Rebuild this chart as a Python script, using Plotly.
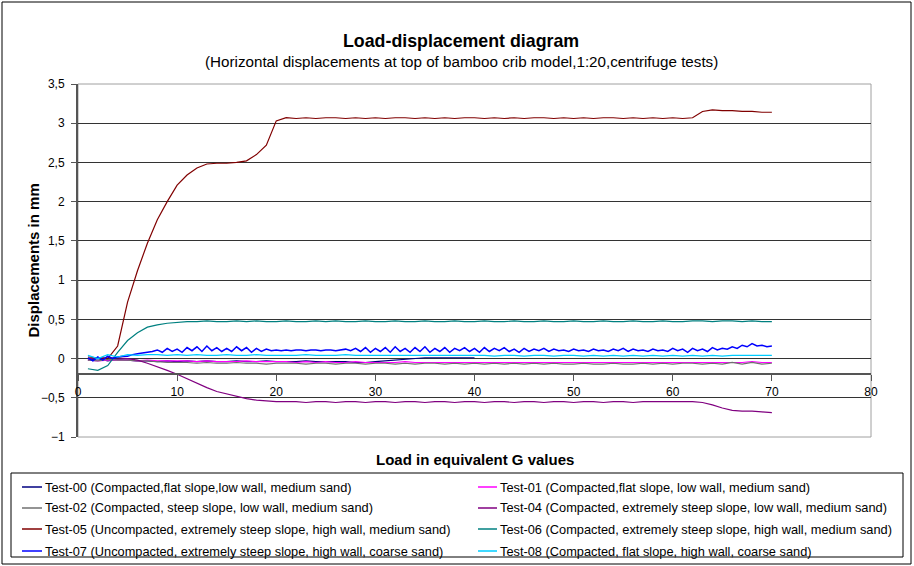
import plotly.graph_objects as go

# Load in equivalent G values
g_load = list(range(1, 71))
g_load_fine = [1 + 0.5 * i for i in range(139)]  # 1.0, 1.5, ... 70.0 (sampling grid of Test-07)

test00 = [-0.02, 0.00, -0.03, -0.01, -0.02, -0.03, -0.03, -0.04, -0.03, -0.04,
          -0.03, -0.04, -0.03, -0.04, -0.04, -0.03, -0.04, -0.04, -0.03, -0.04,
          -0.04, -0.04, -0.03, -0.04, -0.04, -0.04, -0.04, -0.05, -0.05, -0.04,
          -0.03, -0.02, -0.01, 0.00, 0.01, 0.01, 0.01, 0.01, 0.01, 0.01]
test01 = [-0.02, -0.03, -0.02, -0.02, -0.02, -0.03, -0.02, -0.03, -0.03, -0.03,
          -0.03, -0.04, -0.03, -0.04, -0.04, -0.04, -0.03, -0.04, -0.04, -0.04,
          -0.04, -0.05, -0.04, -0.05, -0.04, -0.05, -0.05, -0.04, -0.05, -0.05,
          -0.05, -0.05, -0.04, -0.05, -0.05, -0.05, -0.05, -0.05, -0.05, -0.05,
          -0.05, -0.05, -0.05, -0.05, -0.05, -0.05, -0.05, -0.05, -0.05, -0.05,
          -0.05, -0.05, -0.05, -0.05, -0.05, -0.05, -0.05, -0.05, -0.05, -0.05,
          -0.05, -0.05, -0.05, -0.05, -0.05, -0.05, -0.05, -0.04, -0.05, -0.05]
test02 = [-0.02, -0.03, -0.01, -0.02, -0.02, -0.03, -0.03, -0.04, -0.05, -0.05,
          -0.05, -0.06, -0.05, -0.06, -0.06, -0.05, -0.06, -0.06, -0.07, -0.06,
          -0.06, -0.06, -0.07, -0.06, -0.06, -0.07, -0.06, -0.06, -0.07, -0.06,
          -0.06, -0.07, -0.06, -0.07, -0.06, -0.06, -0.07, -0.06, -0.07, -0.06,
          -0.07, -0.06, -0.07, -0.06, -0.07, -0.06, -0.07, -0.06, -0.07, -0.07,
          -0.06, -0.07, -0.07, -0.06, -0.07, -0.07, -0.06, -0.07, -0.06, -0.07,
          -0.06, -0.06, -0.07, -0.06, -0.07, -0.05, -0.07, -0.05, -0.07, -0.06]
test04 = [0.00, 0.01, 0.01, 0.01, 0.00, -0.02, -0.06, -0.10, -0.15, -0.20,
          -0.26, -0.32, -0.37, -0.42, -0.45, -0.48, -0.51, -0.53, -0.54, -0.55,
          -0.55, -0.55, -0.56, -0.55, -0.55, -0.56, -0.55, -0.55, -0.56, -0.55,
          -0.55, -0.56, -0.55, -0.55, -0.56, -0.55, -0.55, -0.56, -0.55, -0.55,
          -0.56, -0.55, -0.55, -0.56, -0.55, -0.55, -0.56, -0.55, -0.55, -0.56,
          -0.55, -0.55, -0.56, -0.55, -0.55, -0.56, -0.55, -0.55, -0.55, -0.55,
          -0.55, -0.55, -0.56, -0.59, -0.63, -0.66, -0.67, -0.67, -0.68, -0.69]
test05 = [0.02, 0.01, 0.00, 0.16, 0.72, 1.12, 1.47, 1.77, 2.00, 2.21,
          2.34, 2.43, 2.48, 2.49, 2.49, 2.50, 2.52, 2.60, 2.72, 3.03,
          3.07, 3.06, 3.07, 3.06, 3.07, 3.07, 3.06, 3.07, 3.06, 3.07,
          3.06, 3.07, 3.07, 3.06, 3.07, 3.06, 3.07, 3.06, 3.07, 3.07,
          3.06, 3.07, 3.06, 3.07, 3.06, 3.07, 3.07, 3.06, 3.07, 3.06,
          3.07, 3.06, 3.07, 3.07, 3.06, 3.07, 3.06, 3.07, 3.06, 3.07,
          3.06, 3.07, 3.15, 3.17, 3.16, 3.16, 3.15, 3.15, 3.14, 3.14]
test06 = [-0.13, -0.15, -0.09, 0.08, 0.23, 0.33, 0.40, 0.43, 0.45, 0.46,
          0.47, 0.47, 0.48, 0.47, 0.47, 0.48, 0.47, 0.48, 0.47, 0.47,
          0.48, 0.47, 0.47, 0.48, 0.47, 0.48, 0.47, 0.47, 0.48, 0.47,
          0.47, 0.48, 0.47, 0.47, 0.48, 0.47, 0.47, 0.48, 0.47, 0.47,
          0.48, 0.47, 0.47, 0.48, 0.47, 0.47, 0.48, 0.47, 0.47, 0.48,
          0.47, 0.47, 0.48, 0.47, 0.47, 0.48, 0.47, 0.47, 0.48, 0.47,
          0.47, 0.48, 0.48, 0.47, 0.48, 0.48, 0.47, 0.48, 0.47, 0.47]
# Test-07 read at half-G steps (1.0 ... 70.0)
test07 = [0.01, -0.03, 0.02, -0.02, 0.03, 0.00, 0.02, 0.03, 0.03, 0.05,
          0.06, 0.07, 0.08, 0.09, 0.11, 0.08, 0.13, 0.09, 0.12, 0.08,
          0.14, 0.10, 0.15, 0.09, 0.16, 0.10, 0.14, 0.09, 0.13, 0.09,
          0.15, 0.10, 0.14, 0.08, 0.13, 0.09, 0.12, 0.10, 0.11, 0.10,
          0.11, 0.10, 0.11, 0.11, 0.10, 0.11, 0.11, 0.10, 0.11, 0.11,
          0.10, 0.11, 0.12, 0.10, 0.13, 0.09, 0.14, 0.08, 0.13, 0.09,
          0.14, 0.08, 0.15, 0.09, 0.13, 0.08, 0.14, 0.09, 0.15, 0.08,
          0.13, 0.09, 0.14, 0.08, 0.13, 0.10, 0.14, 0.09, 0.13, 0.08,
          0.14, 0.09, 0.13, 0.10, 0.14, 0.09, 0.12, 0.08, 0.13, 0.09,
          0.12, 0.10, 0.13, 0.09, 0.12, 0.10, 0.11, 0.09, 0.12, 0.10,
          0.11, 0.09, 0.12, 0.10, 0.11, 0.09, 0.12, 0.10, 0.13, 0.09,
          0.12, 0.10, 0.11, 0.09, 0.12, 0.10, 0.11, 0.09, 0.13, 0.10,
          0.12, 0.08, 0.13, 0.10, 0.12, 0.09, 0.14, 0.11, 0.13, 0.12,
          0.15, 0.13, 0.17, 0.15, 0.19, 0.16, 0.17, 0.15, 0.16]
test08 = [0.04, 0.00, 0.05, 0.02, 0.05, 0.04, 0.05, 0.05, 0.04, 0.05,
          0.04, 0.05, 0.04, 0.04, 0.05, 0.04, 0.04, 0.05, 0.04, 0.04,
          0.04, 0.04, 0.05, 0.04, 0.04, 0.04, 0.05, 0.04, 0.04, 0.04,
          0.04, 0.04, 0.04, 0.04, 0.04, 0.04, 0.04, 0.04, 0.04, 0.04,
          0.04, 0.03, 0.04, 0.04, 0.03, 0.04, 0.04, 0.03, 0.04, 0.04,
          0.03, 0.04, 0.03, 0.04, 0.03, 0.04, 0.03, 0.04, 0.03, 0.04,
          0.03, 0.04, 0.03, 0.04, 0.03, 0.04, 0.04, 0.04, 0.04, 0.04]

series_names = [
    "Test-00 (Compacted,flat slope,low wall, medium sand)",
    "Test-01 (Compacted,flat slope, low wall, medium sand)",
    "Test-02 (Compacted, steep slope, low wall, medium sand)",
    "Test-04 (Compacted, extremely steep slope, low wall, medium sand)",
    "Test-05 (Uncompacted, extremely steep slope, high wall, medium sand)",
    "Test-06 (Compacted, extremely steep slope, high wall, medium sand)",
    "Test-07 (Uncompacted, extremely steep slope, high wall, coarse sand)",
    "Test-08 (Compacted, flat slope, high wall, coarse sand)",
]
series_values = [test00, test01, test02, test04, test05, test06, test07, test08]
series_x = [g_load, g_load, g_load, g_load, g_load, g_load, g_load_fine, g_load]
series_colors = ["#000080", "#FF00FF", "#707070", "#800080",
                 "#800000", "#008080", "#0000FF", "#00CCFF"]
series_widths = [1.2, 1.2, 1.2, 1.2, 1.2, 1.2, 1.5, 1.2]

y_range = [-1, 3.5]
x_cross = -0.2  # value where the horizontal axis crosses

FONT = "Arial, 'Liberation Sans', Helvetica, sans-serif"

# plot-area geometry in pixels (for converting legend/frame positions to paper coords)
L, R, T, B = 78, 871, 84, 437
PW, PH = R - L, B - T


def px(xp):
    return (xp - L) / PW


def py(yp):
    return (B - yp) / PH


fig = go.Figure()
for name, xs, vals, col, w in zip(series_names, series_x, series_values, series_colors, series_widths):
    fig.add_trace(go.Scatter(
        x=xs[:len(vals)], y=vals, mode="lines", name=name,
        line=dict(color=col, width=w), showlegend=False,
    ))

shapes = [
    dict(type="rect", xref="x domain", yref="y domain", x0=0, x1=1, y0=0, y1=1,
         line=dict(color="#A0A0A0", width=1), layer="below"),
    # outer chart frame
    dict(type="rect", xref="paper", yref="paper",
         x0=px(2), x1=px(911), y0=py(564), y1=py(2),
         line=dict(color="black", width=1)),
    # legend frame
    dict(type="rect", xref="paper", yref="paper",
         x0=px(11), x1=px(903), y0=py(557), y1=py(473),
         line=dict(color="black", width=1)),
]

annotations = [
    dict(text="<b>Load-displacement diagram</b>", xref="paper", yref="paper",
         x=px(461), y=py(41), xanchor="center", yanchor="middle", showarrow=False,
         font=dict(family=FONT, size=17.8, color="black")),
    dict(text="(Horizontal displacements at top of bamboo crib model,1:20,centrifuge tests)",
         xref="paper", yref="paper", x=px(461), y=py(61),
         xanchor="center", yanchor="middle", showarrow=False,
         font=dict(family=FONT, size=15.2, color="black")),
    dict(text="<b>Displacements in mm</b>", xref="paper", yref="paper",
         x=px(33), y=0.5, xanchor="center", yanchor="middle",
         showarrow=False, textangle=-90,
         font=dict(family=FONT, size=15, color="black")),
    dict(text="<b>Load in equivalent G values</b>", xref="paper", yref="paper",
         x=0.5, y=py(459), xanchor="center", yanchor="middle", showarrow=False,
         font=dict(family=FONT, size=15, color="black")),
]

# legend (two columns, row-major), drawn as keys + labels
row_y = [487, 508, 529, 551]
col_key = [(22, 42), (478, 497)]
col_text = [43, 498]
for i, (name, col) in enumerate(zip(series_names, series_colors)):
    r, c = divmod(i, 2)
    shapes.append(dict(type="line", xref="paper", yref="paper",
                       x0=px(col_key[c][0]), x1=px(col_key[c][1]),
                       y0=py(row_y[r]), y1=py(row_y[r]),
                       line=dict(color=col, width=1.5)))
    annotations.append(dict(text=name, xref="paper", yref="paper",
                            x=px(col_text[c]), y=py(row_y[r]),
                            xanchor="left", yanchor="middle", showarrow=False,
                            font=dict(family=FONT, size=12.8, color="black")))

fig.update_layout(
    width=914, height=566,
    margin=dict(l=L, r=914 - R, t=T, b=566 - B),
    paper_bgcolor="white", plot_bgcolor="white",
    separators=", ",
    font=dict(family=FONT, size=12, color="black"),
    showlegend=False,
    xaxis=dict(
        range=[0, 80], dtick=10, tick0=0,
        showgrid=False, zeroline=False,
        showline=True, linecolor="#555555", linewidth=2,
        ticks="outside", ticklen=6, tickcolor="#555555", tickwidth=1,
        anchor="free", position=(x_cross - y_range[0]) / (y_range[1] - y_range[0]),
        tickfont=dict(family=FONT, size=12, color="black"),
    ),
    yaxis=dict(
        range=y_range, dtick=0.5, tick0=0,
        showgrid=True, gridcolor="#333333", gridwidth=1,
        zeroline=False,
        showline=True, linecolor="#555555", linewidth=2,
        ticks="outside", ticklen=5, tickcolor="#555555",
        ticklabelstandoff=4,
        tickfont=dict(family=FONT, size=12, color="black"),
    ),
    shapes=shapes,
    annotations=annotations,
)

fig.write_html("out.html")
